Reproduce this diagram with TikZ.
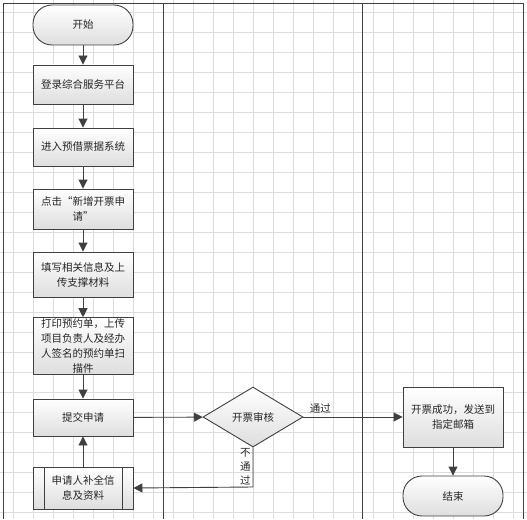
\documentclass[tikz,border=0pt]{standalone}
\usepackage{fontspec}
\setmainfont{Noto Sans CJK SC}
\usetikzlibrary{shapes.geometric,arrows.meta}

\definecolor{linegray}{HTML}{404040}
\definecolor{gridgray}{HTML}{DDDDDD}

\tikzset{
    flowbox/.style={draw=linegray, line width=0.9pt, top color=white, bottom color=black!13,
        minimum width=100pt, inner sep=1pt, align=center, text=black!85,
        font=\fontsize{10.5}{15}\selectfont},
    termbox/.style={flowbox, rounded corners=19pt, minimum height=40pt},
    decision/.style={flowbox, diamond, aspect=1.6, minimum width=100pt, minimum height=60pt, inner sep=0pt},
    flowline/.style={draw=linegray, line width=0.9pt, -{Triangle[length=9pt,width=9pt]}},
    lane/.style={draw=linegray, line width=0.9pt}
}

\begin{document}
\begin{tikzpicture}[x=1pt,y=-1pt]

    \useasboundingbox (0,0) rectangle (527,519);

    % grid
    \foreach \gx in {13,33,...,513} \draw[gridgray, line width=0.7pt] (\gx,0) -- (\gx,519);
    \foreach \gy in {12,32,...,512} \draw[gridgray, line width=0.7pt] (0,\gy) -- (527,\gy);

    % lanes
    \draw[lane] (3,519) -- (3,3) -- (523,3) -- (523,519);
    \draw[lane] (163,3) -- (163,519);
    \draw[lane] (362,3) -- (362,519);

    % left lane
    \node[termbox] (start) at (83,25) {开始};
    \node[flowbox, minimum height=39pt] (login) at (83,84.5) {登录综合服务平台};
    \node[flowbox, minimum height=38pt] (enter) at (83,147) {进入预借票据系统};
    \node[flowbox, minimum height=40pt] (click) at (83,209) {点击“新增开票申\\请”};
    \node[flowbox, minimum height=45pt] (fill) at (83,274.5) {填写相关信息及上\\传支撑材料};
    \node[flowbox, minimum height=54pt] (print) at (83,346) {打印预约单，上传\\项目负责人及经办\\人签名的预约单扫\\描件};
    \node[flowbox, minimum height=37pt] (submit) at (83,417.5) {提交申请};
    \node[flowbox, minimum height=42pt] (supply) at (83,488) {申请人补全信\\息及资料};
    \draw[linegray, line width=0.9pt] ([xshift=12pt]supply.north west) -- ([xshift=12pt]supply.south west);
    \draw[linegray, line width=0.9pt] ([xshift=-11pt]supply.north east) -- ([xshift=-11pt]supply.south east);

    % middle lane
    \node[decision] (audit) at (253,417) {开票审核};

    % right lane
    \node[flowbox, minimum height=60pt] (done) at (453,417) {开票成功，发送到\\指定邮箱};
    \node[termbox] (finish) at (453,496) {结束};

    % connectors
    \draw[flowline] (start) -- (login);
    \draw[flowline] (login) -- (enter);
    \draw[flowline] (enter) -- (click);
    \draw[flowline] (click) -- (fill);
    \draw[flowline] (fill) -- (print);
    \draw[flowline] (print) -- (submit);
    \draw[flowline] (submit) -- (audit);
    \draw[flowline] (audit) -- node[above, pos=0.17, text=black!85, font=\fontsize{10.5}{13}\selectfont] {通过} (done);
    \draw[flowline] (done) -- (finish);
    \draw[flowline] (audit.south) -- (253,487) node[left, midway, align=center, inner sep=2pt, text=black!85, font=\fontsize{10.5}{14}\selectfont] {不\\通\\过} -- (supply.east);
    \draw[flowline] (supply) -- (submit);

\end{tikzpicture}
\end{document}
